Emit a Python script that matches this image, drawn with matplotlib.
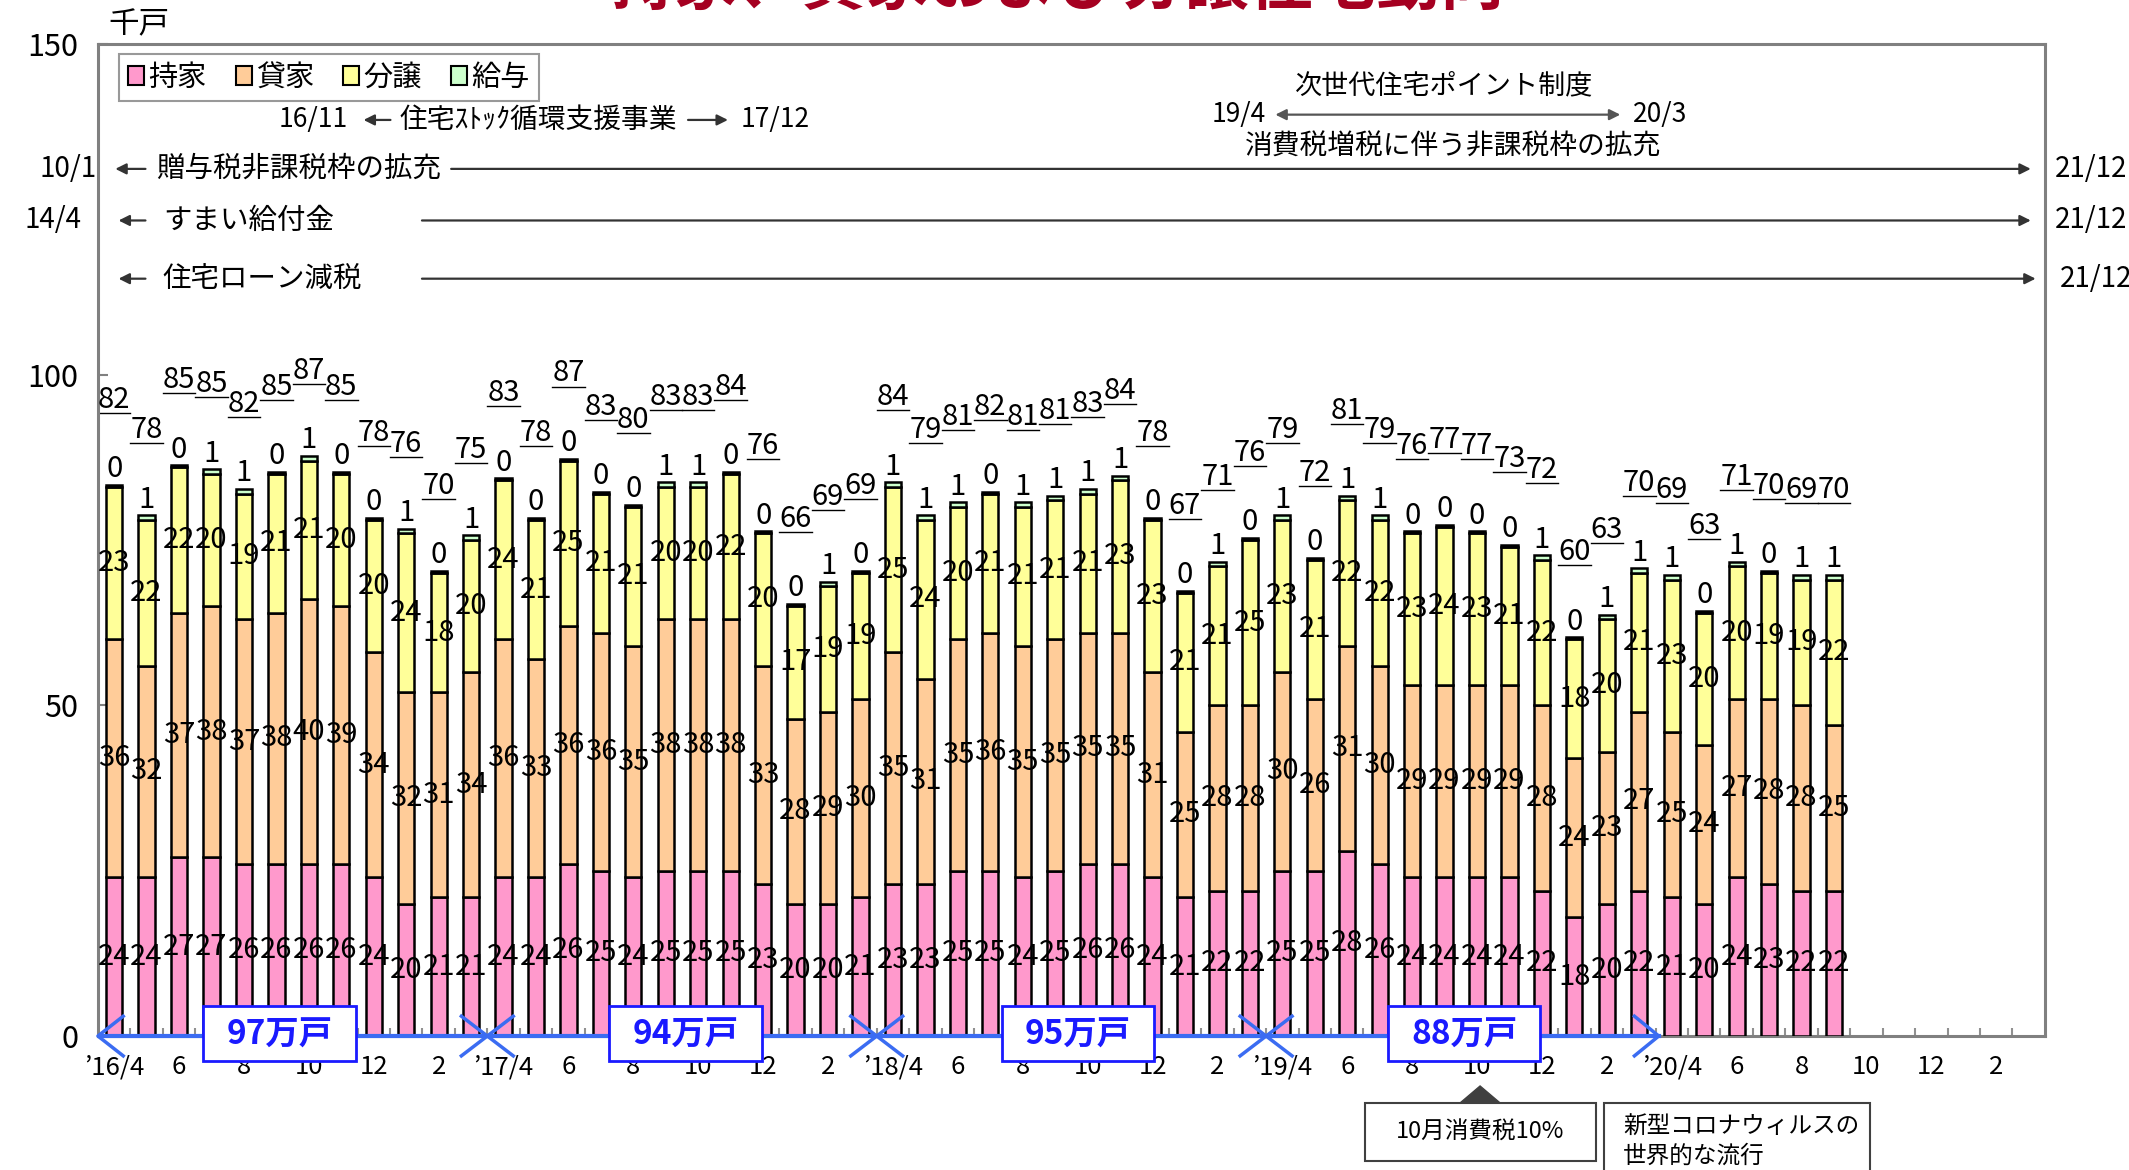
import matplotlib.pyplot as plt
import numpy as np
from matplotlib.patches import Patch, Rectangle, Polygon

plt.rcParams['font.family'] = ['Noto Sans CJK JP', 'DejaVu Sans']

# monthly housing starts, thousand units ('16/4 - '20/9)
months = ['16/4', '16/5', '16/6', '16/7', '16/8', '16/9', '16/10', '16/11', '16/12',
          '17/1', '17/2', '17/3', '17/4', '17/5', '17/6', '17/7', '17/8', '17/9',
          '17/10', '17/11', '17/12', '18/1', '18/2', '18/3', '18/4', '18/5', '18/6',
          '18/7', '18/8', '18/9', '18/10', '18/11', '18/12', '19/1', '19/2', '19/3',
          '19/4', '19/5', '19/6', '19/7', '19/8', '19/9', '19/10', '19/11', '19/12',
          '20/1', '20/2', '20/3', '20/4', '20/5', '20/6', '20/7', '20/8', '20/9']
owner = [24, 24, 27, 27, 26, 26, 26, 26, 24, 20, 21, 21, 24, 24, 26, 25, 24, 25,
         25, 25, 23, 20, 20, 21, 23, 23, 25, 25, 24, 25, 26, 26, 24, 21, 22, 22,
         25, 25, 28, 26, 24, 24, 24, 24, 22, 18, 20, 22, 21, 20, 24, 23, 22, 22]
rental = [36, 32, 37, 38, 37, 38, 40, 39, 34, 32, 31, 34, 36, 33, 36, 36, 35, 38,
          38, 38, 33, 28, 29, 30, 35, 31, 35, 36, 35, 35, 35, 35, 31, 25, 28, 28,
          30, 26, 31, 30, 29, 29, 29, 29, 28, 24, 23, 27, 25, 24, 27, 28, 28, 25]
sale = [23, 22, 22, 20, 19, 21, 21, 20, 20, 24, 18, 20, 24, 21, 25, 21, 21, 20,
        20, 22, 20, 17, 19, 19, 25, 24, 20, 21, 21, 21, 21, 23, 23, 21, 21, 25,
        23, 21, 22, 22, 23, 24, 23, 21, 22, 18, 20, 21, 23, 20, 20, 19, 19, 22]
company = [0.3, 0.7, 0.3, 0.7, 0.7, 0.3, 0.7, 0.3, 0.3, 0.7, 0.3, 0.7, 0.3, 0.3, 0.3, 0.3, 0.3, 0.7,
           0.7, 0.3, 0.3, 0.3, 0.7, 0.3, 0.7, 0.7, 0.7, 0.3, 0.7, 0.7, 0.7, 0.7, 0.3, 0.3, 0.7, 0.3,
           0.7, 0.3, 0.7, 0.7, 0.3, 0.3, 0.3, 0.3, 0.7, 0.3, 0.7, 0.7, 0.7, 0.3, 0.7, 0.3, 0.7, 0.7]
totals = [82, 78, 85, 85, 82, 85, 87, 85, 78, 76, 70, 75, 83, 78, 87, 83, 80, 83,
          83, 84, 76, 66, 69, 69, 84, 79, 81, 82, 81, 81, 83, 84, 78, 67, 71, 76,
          79, 72, 81, 79, 76, 77, 77, 73, 72, 60, 63, 70, 69, 63, 71, 70, 69, 70]
series_names = ['持家', '貸家', '分譲', '給与']
series_colors = ['#ff99cc', '#ffcc99', '#ffff99', '#ccffcc']
tick_labels = ['’16/4', '6', '8', '10', '12', '2',
               '’17/4', '6', '8', '10', '12', '2',
               '’18/4', '6', '8', '10', '12', '2',
               '’19/4', '6', '8', '10', '12', '2',
               '’20/4', '6', '8', '10', '12', '2']
n_slots = 60
period_labels = ['97万戸', '94万戸', '95万戸', '88万戸']

fig = plt.figure(figsize=(21.29, 11.70), dpi=100)
ax = fig.add_axes([0.046, 0.1145, 0.9145, 0.848])

x = np.arange(len(months))
bottom = np.zeros(len(months))
for vals, c in zip([owner, rental, sale, company], series_colors):
    ax.bar(x, vals, 0.5, bottom=bottom, color=c, edgecolor='black', linewidth=1.8, zorder=3)
    bottom = bottom + np.array(vals)

# segment labels
lab_size = 21
seg_base = np.zeros(len(months))
for vals in [owner, rental, sale]:
    v = np.array(vals)
    for i in range(len(months)):
        ax.text(x[i], seg_base[i] + v[i] / 2, str(v[i]), ha='center', va='center',
                fontsize=lab_size, zorder=6)
    seg_base = seg_base + v
for i in range(len(months)):
    top = bottom[i]
    ax.text(x[i], top + 0.1, str(int(round(company[i]))), ha='center', va='bottom',
            fontsize=lab_size, zorder=6)
    ax.text(x[i], top + 10.6, str(totals[i]), ha='center', va='bottom',
            fontsize=lab_size, zorder=6)
    ax.plot([x[i] - 0.5, x[i] + 0.5], [top + 10.9, top + 10.9], color='black', lw=1.0)

ax.set_xlim(-0.5, n_slots - 0.5)
ax.set_ylim(0, 150)
ax.set_yticks([0, 50, 100, 150])
ax.tick_params(axis='y', direction='in', length=7, width=1.5, color='#808080',
               labelsize=22, pad=14)
ax.set_xticks(np.arange(0, n_slots, 2))
ax.set_xticklabels(tick_labels)
ax.tick_params(axis='x', which='major', length=0, labelsize=18.5, pad=13)
ax.set_xticks(np.arange(0.5, n_slots - 1, 1), minor=True)
ax.tick_params(axis='x', which='minor', direction='in', length=6, width=1.5, color='#909090')
for s in ax.spines.values():
    s.set_color('#808080')
    s.set_linewidth(2.2)

# legend
handles = [Patch(facecolor=c, edgecolor='black', linewidth=1.5) for c in series_colors]
leg = ax.legend(handles, series_names, loc='upper left', bbox_to_anchor=(0.0108, 0.99),
                ncol=4, fontsize=21, frameon=True, fancybox=False, edgecolor='#808080',
                handlelength=0.55, handleheight=0.6, handletextpad=0.15,
                columnspacing=1.0, borderpad=0.3, borderaxespad=0)
leg.get_frame().set_linewidth(1.5)

# blue period band along the x axis
blue = '#3b6cf2'
ax.plot([-0.45, 47.6], [0, 0], color=blue, lw=3, clip_on=False, zorder=5)
ax.plot([0.28, -0.5, 0.28], [3, 0, -3], color=blue, lw=2.5, clip_on=False, zorder=5)
ax.plot([46.85, 47.6, 46.85], [3, 0, -3], color=blue, lw=2.5, clip_on=False, zorder=5)
for xm in [11.5, 23.5, 35.5]:
    ax.plot([xm - 0.8, xm + 0.8], [-3, 3], color=blue, lw=2.5, clip_on=False, zorder=5)
    ax.plot([xm - 0.8, xm + 0.8], [3, -3], color=blue, lw=2.5, clip_on=False, zorder=5)
for xc, lab in zip([5.1, 17.6, 29.7, 41.6], period_labels):
    ax.add_patch(Rectangle((xc - 2.35, -3.7), 4.7, 8.2, facecolor='white', edgecolor='#1a1aff',
                           lw=2, clip_on=False, zorder=7))
    ax.text(xc, 0.2, lab, ha='center', va='center', fontsize=24, fontweight='bold',
            color='#1a1aff', zorder=8)

# policy annotations
arrow_kw = dict(arrowstyle='-|>', color='#333333', lw=1.6, mutation_scale=16)
ax.text(7.2, 138.5, '16/11', ha='right', va='center', fontsize=19)
ax.annotate('', xy=(7.6, 138.5), xytext=(8.6, 138.5), arrowprops=arrow_kw)
ax.text(8.8, 138.5, '住宅ｽﾄｯｸ循環支援事業', ha='left', va='center', fontsize=20)
ax.annotate('', xy=(19.0, 138.5), xytext=(17.6, 138.5), arrowprops=arrow_kw)
ax.text(19.3, 138.5, '17/12', ha='left', va='center', fontsize=19)

ax.text(41.0, 143.6, '次世代住宅ポイント制度', ha='center', va='center', fontsize=19.5)
ax.text(35.5, 139.3, '19/4', ha='right', va='center', fontsize=19)
ax.annotate('', xy=(35.7, 139.3), xytext=(46.5, 139.3),
            arrowprops=dict(arrowstyle='<|-|>', color='#555555', lw=1.6, mutation_scale=16))
ax.text(46.8, 139.3, '20/3', ha='left', va='center', fontsize=19)
ax.text(41.25, 134.4, '消費税増税に伴う非課税枠の拡充', ha='center', va='center', fontsize=20)

rows = [(131.1, '10/1', -0.55, 1.3, '贈与税非課税枠の拡充', 10.3, 59.15),
        (123.3, '14/4', -1.0, 1.5, 'すまい給付金', 9.4, 59.15),
        (114.5, '', 0, 1.5, '住宅ローン減税', 9.4, 59.3)]
for y, start, xs, xt, label, x0, x1 in rows:
    if start:
        ax.text(xs, y, start, ha='right', va='center', fontsize=20)
    ax.annotate('', xy=(-0.05 if start == '10/1' else 0.05, y), xytext=(1.05, y),
                arrowprops=arrow_kw)
    ax.text(xt, y, label, ha='left', va='center', fontsize=20.5)
    ax.annotate('', xy=(x1, y), xytext=(x0, y), arrowprops=arrow_kw)
    ax.text(x1 + 0.65, y, '21/12', ha='left', va='center', fontsize=20)

# texts outside the axes (title is cut off at the top, as in the source slide)
fig.text(0.497, 0.9965, '持家、貸家および分譲住宅動向', ha='center', va='baseline',
         fontsize=46, fontweight='bold', color='#a50021')
fig.text(0.051, 0.979, '千戸', ha='left', va='center', fontsize=22)

fig.add_artist(Polygon([[0.6858, 0.0573], [0.7046, 0.0573], [0.6952, 0.0718]],
                       closed=True, transform=fig.transFigure, facecolor='#404040',
                       edgecolor='#404040'))
fig.add_artist(Rectangle((0.6411, 0.0077), 0.1086, 0.0496, transform=fig.transFigure,
                         facecolor='white', edgecolor='#404040', lw=1.5))
fig.text(0.6954, 0.0325, '10月消費税10%', ha='center', va='center', fontsize=17)
fig.add_artist(Rectangle((0.7534, -0.05), 0.1249, 0.1073, transform=fig.transFigure,
                         facecolor='white', edgecolor='#404040', lw=1.5))
fig.text(0.7624, 0.0368, '新型コロナウィルスの', ha='left', va='center', fontsize=17)
fig.text(0.7624, 0.0118, '世界的な流行', ha='left', va='center', fontsize=17)

fig.savefig('out.png', dpi=100)
